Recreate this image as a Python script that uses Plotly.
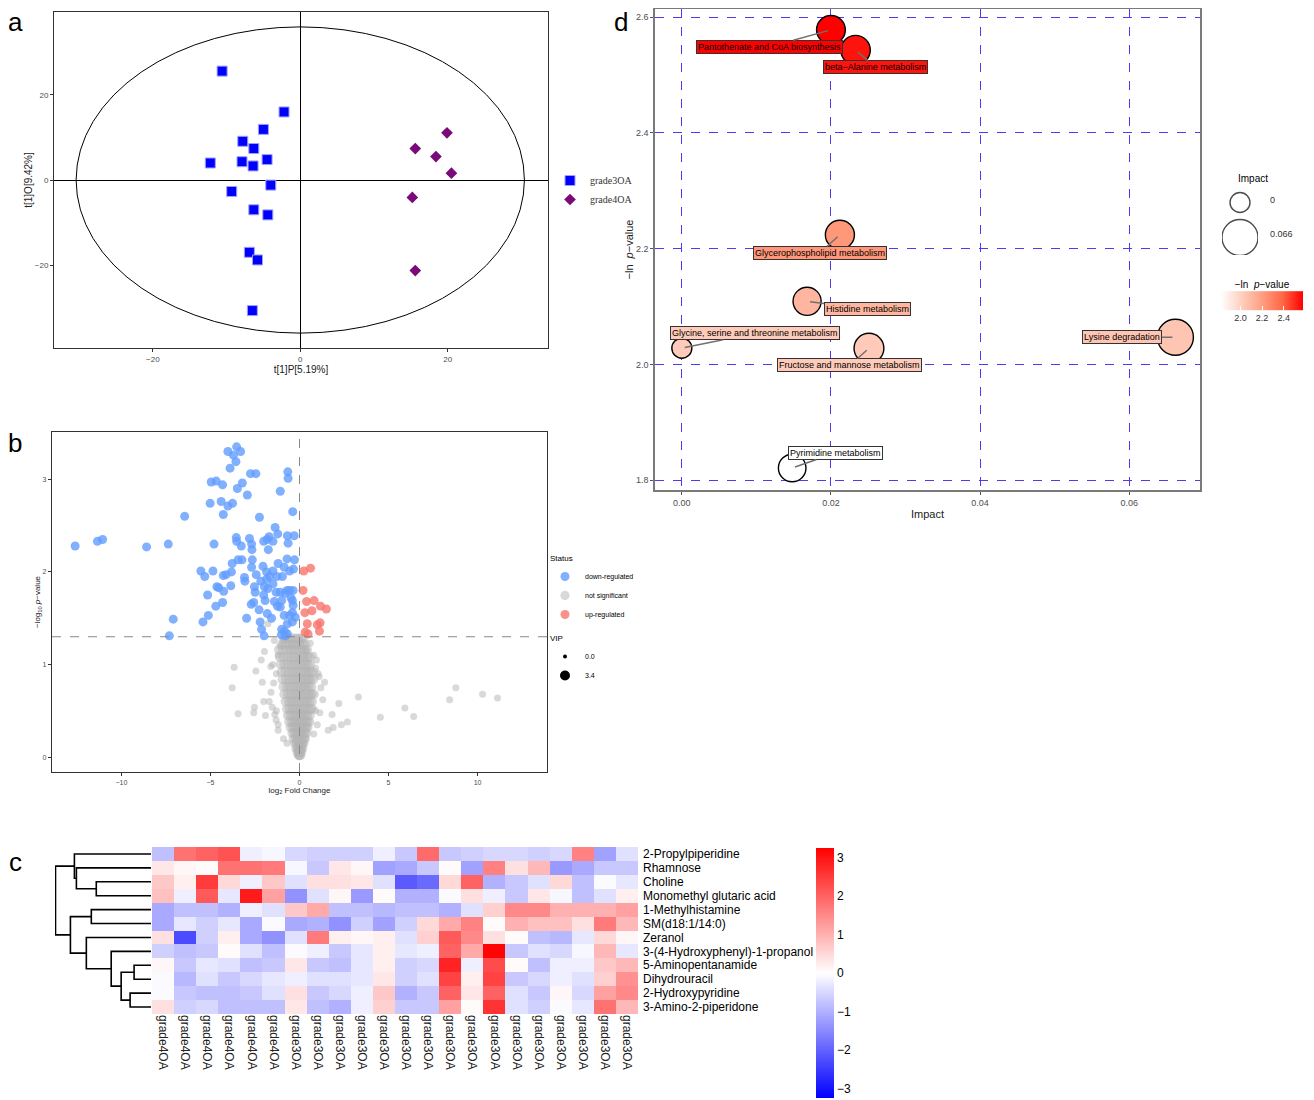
import plotly.graph_objects as go

OFF = 8                      # default page body margin of the written html
W, H = 1314 - OFF, 1100 - OFF
def px_x(p): return (p - OFF) / W
def px_y(p): return 1 - (p - OFF) / H

FONT = "Liberation Sans"

# ---------------- Panel a : OPLS-DA scores ----------------
g3_x = [-10.6, -2.2, -5.0, -7.8, -6.3, -12.2, -7.9, -6.4, -4.5, -4.0, -9.3, -6.3, -4.4, -6.9, -5.8, -6.5]
g3_y = [25.6, 16.0, 11.9, 9.1, 7.4, 4.0, 4.3, 3.3, 4.8, -1.2, -2.7, -7.0, -8.2, -17.0, -18.8, -30.7]
g4_x = [19.9, 15.6, 18.4, 20.5, 15.2, 15.6]
g4_y = [11.1, 7.4, 5.5, 1.6, -4.1, -21.3]
ellipse_rx, ellipse_ry = 30.4, 36.0

# ---------------- Panel b : volcano ----------------
down_pts = [(-12.6, 2.28), (-11.35, 2.33), (-11.06, 2.35), (-8.59, 2.27), (-7.37, 2.30), (-7.09, 1.49),
            (-7.31, 1.31), (-6.45, 2.60), (-5.42, 1.46), (-5.12, 1.53), (-5.16, 1.75), (-5.54, 2.01),
            (-5.32, 1.95), (-4.86, 2.01), (-4.80, 2.30), (-5.02, 2.74), (-4.96, 2.97), (-4.68, 2.98),
            (-4.32, 2.94), (-4.40, 2.76), (-4.02, 2.71), (-3.76, 2.74), (-4.28, 2.62), (-4.70, 1.63),
            (-4.64, 1.84), (-4.54, 1.83), (-4.26, 1.79), (-4.32, 1.67), (-4.28, 1.96), (-4.12, 1.97),
            (-3.82, 2.00), (-3.86, 1.85), (-3.78, 2.09), (-3.55, 2.37), (-3.53, 2.33), (-3.45, 2.13),
            (-3.27, 2.28), (-3.23, 2.13), (-3.09, 1.94), (-3.07, 1.90), (-2.97, 1.50), (-4.02, 3.30),
            (-3.71, 3.26), (-3.53, 3.35), (-3.31, 3.30), (-3.57, 3.19), (-3.90, 3.12), (-3.49, 2.90),
            (-3.21, 2.96), (-2.93, 2.83), (-2.75, 3.06), (-2.45, 3.06), (-2.25, 2.59), (-2.81, 2.36),
            (-2.69, 2.30), (-2.67, 2.24), (-2.65, 2.13), (-2.69, 2.05), (-2.43, 1.97), (-2.53, 1.84),
            (-2.49, 1.78), (-2.57, 1.67), (-2.71, 1.65), (-2.27, 1.59), (-2.21, 1.46), (-2.13, 1.38),
            (-1.99, 1.31), (-2.01, 2.33), (-1.81, 2.35), (-1.71, 2.38), (-1.75, 2.24), (-2.05, 2.06),
            (-1.85, 2.00), (-2.17, 1.90), (-1.85, 1.92), (-1.67, 1.95), (-1.97, 1.84), (-1.77, 1.82),
            (-2.01, 1.75), (-1.93, 1.69), (-1.81, 1.55), (-1.57, 1.50), (-1.49, 2.33), (-1.37, 2.48),
            (-1.22, 2.41), (-1.49, 2.01), (-1.20, 2.09), (-1.27, 1.95), (-1.49, 1.87), (-1.31, 1.78),
            (-1.41, 1.68), (-1.24, 1.63), (-1.08, 2.87), (-0.86, 2.05), (-0.96, 1.95), (-1.08, 1.78),
            (-1.00, 1.69), (-0.80, 1.77), (-0.70, 1.80), (-0.56, 1.80), (-0.36, 1.80), (-1.08, 1.62),
            (-0.86, 1.53), (-0.56, 1.53), (-0.40, 1.56), (-0.24, 1.51), (-0.68, 1.44), (-0.40, 1.46),
            (-1.00, 1.38), (-0.84, 1.36), (-0.68, 1.33), (-0.80, 1.31), (-1.02, 1.32), (-0.66, 3.08),
            (-0.64, 3.01), (-0.38, 2.65), (-0.68, 2.39), (-0.30, 2.39), (-0.64, 2.31), (-0.70, 2.14),
            (-0.28, 2.13), (-0.34, 2.03), (-0.56, 2.01), (-0.40, 1.69), (-0.36, 1.64), (-0.48, 1.72)]
up_pts = [(0.24, 2.01), (0.62, 2.04), (0.20, 1.80), (0.40, 1.68), (0.82, 1.69), (1.18, 1.63), (1.51, 1.60),
          (0.30, 1.56), (0.70, 1.58), (0.44, 1.44), (1.00, 1.43), (1.16, 1.45), (1.12, 1.36), (0.32, 1.35),
          (0.48, 1.33)]
ns_outliers = [(8.78, 0.75), (10.28, 0.68), (11.12, 0.64), (8.43, 0.62), (5.92, 0.53), (6.41, 0.44),
               (4.54, 0.43), (3.31, 0.65), (2.69, 0.38), (2.35, 0.35), (2.21, 0.58), (1.83, 0.46),
               (1.89, 0.32), (1.41, 0.81), (-3.67, 0.97), (-3.78, 0.75), (-3.45, 0.47), (-2.53, 0.54),
               (-1.97, 1.14), (-2.15, 1.05), (-2.45, 0.93), (-2.09, 0.81), (-2.01, 0.60), (-1.77, 1.44),
               (-1.53, 0.54), (-1.39, 0.46), (-1.91, 0.45), (-2.57, 0.48), (-1.61, 0.98), (-1.20, 1.10),
               (-1.41, 1.26), (0.80, 1.10), (0.90, 0.96), (1.10, 0.87), (1.31, 0.62), (1.14, 0.48),
               (0.60, 1.23), (0.40, 1.15), (1.61, 0.29), (-1.31, 0.40), (-1.20, 0.29), (-1.30, 0.90),
               (-1.45, 0.80), (-1.60, 0.70), (-1.50, 1.00), (-1.70, 0.60), (-1.30, 0.50), (-1.20, 0.35),
               (0.90, 0.50), (1.00, 0.35), (0.80, 0.25), (1.20, 0.75), (1.05, 0.90), (-0.90, 0.20),
               (-0.70, 0.15), (-1.10, 1.20), (-0.95, 1.25), (0.95, 1.05)]
ns_core_rows = [
    (0.02, [-0.05, 0.0, 0.05]),
    (0.06, [-0.12, -0.04, 0.04, 0.1]),
    (0.10, [-0.18, -0.08, 0.0, 0.08, 0.16]),
    (0.15, [-0.25, -0.13, -0.03, 0.07, 0.15, 0.22]),
    (0.20, [-0.33, -0.2, -0.08, 0.03, 0.14, 0.25, 0.3]),
    (0.26, [-0.4, -0.28, -0.15, -0.04, 0.08, 0.19, 0.3, 0.38]),
    (0.32, [-0.5, -0.35, -0.22, -0.1, 0.02, 0.14, 0.26, 0.36, 0.45]),
    (0.38, [-0.58, -0.42, -0.28, -0.15, -0.03, 0.1, 0.22, 0.33, 0.45, 0.55]),
    (0.45, [-0.65, -0.5, -0.35, -0.2, -0.07, 0.06, 0.2, 0.32, 0.44, 0.58]),
    (0.52, [-0.7, -0.55, -0.4, -0.25, -0.1, 0.04, 0.17, 0.3, 0.45, 0.6, 0.7]),
    (0.60, [-0.78, -0.6, -0.45, -0.3, -0.15, 0.0, 0.14, 0.28, 0.42, 0.56, 0.7]),
    (0.68, [-0.85, -0.65, -0.48, -0.32, -0.17, -0.03, 0.11, 0.26, 0.4, 0.55, 0.68, 0.8]),
    (0.76, [-0.9, -0.7, -0.52, -0.36, -0.2, -0.05, 0.1, 0.24, 0.38, 0.52, 0.66]),
    (0.84, [-0.95, -0.75, -0.56, -0.4, -0.24, -0.08, 0.07, 0.22, 0.36, 0.5, 0.63, 0.78]),
    (0.92, [-1.0, -0.8, -0.6, -0.43, -0.27, -0.1, 0.05, 0.2, 0.35, 0.5, 0.62, 0.75]),
    (1.00, [-1.05, -0.85, -0.64, -0.46, -0.3, -0.13, 0.03, 0.18, 0.33, 0.47, 0.6]),
    (1.08, [-1.1, -0.88, -0.68, -0.5, -0.32, -0.15, 0.02, 0.17, 0.31, 0.45, 0.58]),
    (1.16, [-1.15, -0.92, -0.7, -0.52, -0.35, -0.18, 0.0, 0.15, 0.3, 0.42]),
    (1.22, [-0.95, -0.72, -0.55, -0.37, -0.2, -0.02, 0.14, 0.28]),
    (1.28, [-0.85, -0.65, -0.45, -0.28, -0.1, 0.06, 0.2]),
]
p_threshold = 1.3

# ---------------- Panel c : heatmap ----------------
row_labels = ["2-Propylpiperidine", "Rhamnose", "Choline", "Monomethyl glutaric acid", "1-Methylhistamine",
              "SM(d18:1/14:0)", "Zeranol", "3-(4-Hydroxyphenyl)-1-propanol", "5-Aminopentanamide",
              "Dihydrouracil", "2-Hydroxypyridine", "3-Amino-2-piperidone"]
col_labels = ["grade4OA"] * 6 + ["grade3OA"] * 16
heat_values = [
    [-0.8, 1.8, 2.0, 2.2, -0.2, -0.1, -0.5, -0.6, -0.6, -0.6, -0.2, -0.7, 1.9, -0.7, -0.6, -0.5, -0.5, -0.6, -0.5, 1.6, -1.2, -0.4],
    [0.3, 0.1, 0.05, 1.8, 1.8, 1.7, -0.1, -0.7, 0.3, 0.1, -1.2, -1.1, -0.7, 0.05, -1.2, 1.6, 0.4, 0.9, -1.3, -1.1, -0.7, -0.7],
    [0.7, 0.2, 2.5, 0.5, -0.2, 0.7, -0.4, 0.4, 0.4, 0.3, -0.4, -2.1, -1.9, 0.5, 2.0, -1.0, -0.7, -0.4, 0.5, -0.8, -0.05, -0.3],
    [0.8, -0.2, 2.1, -0.3, 2.9, 1.2, -1.4, -0.4, 0.1, -1.3, 0.05, -1.0, -1.0, -0.05, 0.4, -0.2, -0.7, 0.3, -0.1, -0.8, -0.4, 0.2],
    [-1.1, -0.8, -0.8, -1.0, -0.2, -0.4, 0.7, 1.1, -0.8, -0.8, -0.9, -0.8, -0.8, -1.0, -0.4, 0.6, 1.5, 1.5, 1.0, 1.0, 1.0, 1.2],
    [-1.1, -0.3, -0.6, -0.3, -1.1, -0.05, -1.1, -1.0, -1.4, -0.6, -1.2, -0.6, 0.5, 1.1, 1.6, 0.05, 1.0, 0.8, 0.8, 0.4, 1.7, 0.9],
    [0.4, -2.3, -0.6, 0.2, -1.1, -1.4, -0.4, 1.7, 0.2, 0.1, 0.2, -0.4, 0.6, 2.1, 1.5, 0.4, 0.05, -0.8, -0.9, -0.3, 0.5, 0.1],
    [-0.6, -0.8, -0.7, 0.05, -0.4, -0.8, -0.05, -0.2, -0.7, -0.3, 0.2, -0.3, -0.2, 2.0, 1.1, 3.2, -0.7, -0.4, -0.5, -0.1, 0.9, -0.3],
    [0.1, -0.7, -0.3, -0.4, -0.8, -0.7, 0.3, -0.7, -0.8, -0.3, 0.2, -0.6, -0.5, 2.8, -0.2, 2.3, 0.05, -0.8, -0.2, -0.2, 0.7, 0.9],
    [-0.05, -0.9, -0.4, -0.7, -0.5, -0.3, -0.2, -0.4, -0.4, -0.3, 0.3, -0.6, -0.4, 2.4, 0.2, 2.4, -0.7, -0.5, -0.2, -0.4, 0.6, 1.4],
    [-0.05, -0.7, -0.8, -0.8, -0.7, -0.4, 0.4, -0.7, -0.5, -0.2, 0.7, -1.0, -0.7, 2.0, 0.3, 2.0, -0.4, -0.7, 0.1, -0.5, 1.2, 1.5],
    [0.4, -0.6, -0.5, -0.8, -0.8, -0.8, 0.3, -0.8, -1.0, -0.2, 0.6, -0.7, -0.7, 1.2, 0.05, 2.6, -0.4, -0.6, -0.05, -0.3, 1.8, 0.9],
]
# row dendrogram merges: (left node, right node, height); leaves 0..11, new nodes from 12
row_merges = [(2, 3, 55), (1, 12, 75), (0, 13, 77), (4, 5, 60), (8, 9, 17), (10, 11, 21),
              (16, 17, 30), (7, 18, 40), (6, 19, 65), (15, 20, 81), (14, 21, 96)]

# ---------------- Panel d : pathway bubbles ----------------
pathways = ["Pantothenate and CoA biosynthesis", "beta\u2212Alanine metabolism", "Glycerophospholipid metabolism",
            "Histidine metabolism", "Glycine, serine and threonine metabolism", "Fructose and mannose metabolism",
            "Lysine degradation", "Pyrimidine metabolism"]
impact = [0.0200, 0.0233, 0.0212, 0.0168, 0.0, 0.0251, 0.0662, 0.0148]
neg_ln_p = [2.578, 2.543, 2.224, 2.109, 2.028, 2.028, 2.047, 1.821]
label_dx = [-61, 20, -20, 60, 73, -19, -53, 43]
label_dy = [17, 17, 18, 8, -15, 17, 0, -15]
impact_legend_vals = [0, 0.066]

# ---------------- helpers ----------------
red_scale = [[0, "#FFFFFF"], [0.25, "#FFCFBF"], [0.5, "#FF9E81"], [0.75, "#FF6746"], [1, "#FF0000"]]
cmin_d, cmax_d = 1.821, 2.578

def hex2rgb(h):
    return tuple(int(h[i:i + 2], 16) for i in (1, 3, 5))

def scale_color(v):
    t = (v - cmin_d) / (cmax_d - cmin_d)
    t = max(0.0, min(1.0, t))
    for (a, ca), (b, cb) in zip(red_scale[:-1], red_scale[1:]):
        if a <= t <= b:
            f = (t - a) / (b - a)
            r1, g1, b1 = hex2rgb(ca)
            r2, g2, b2 = hex2rgb(cb)
            return "rgb(%d,%d,%d)" % (r1 + (r2 - r1) * f, g1 + (g2 - g1) * f, b1 + (b2 - b1) * f)
    return red_scale[-1][1]

imp_max = 0.066
def bubble_size(v):
    return 20 + 16 * (max(v, 0) / imp_max) ** 0.5

fig = go.Figure()

# ---- a ----
fig.add_trace(go.Scatter(x=g3_x, y=g3_y, mode="markers", name="grade3OA", xaxis="x", yaxis="y",
                         marker=dict(symbol="square", size=10, color="#0000FF", line=dict(color="#A0A0FF", width=1)),
                         legend="legend"))
fig.add_trace(go.Scatter(x=g4_x, y=g4_y, mode="markers", name="grade4OA", xaxis="x", yaxis="y",
                         marker=dict(symbol="diamond", size=9, color="#7A0A7A", line=dict(width=0)),
                         legend="legend"))

# ---- b ----
out_x = [p[0] for p in ns_outliers]
out_y = [p[1] for p in ns_outliers]
core_x, core_y = [], []
for yv, xs in ns_core_rows:
    for xv in xs:
        core_x.append(xv)
        core_y.append(yv)
fig.add_trace(go.Scatter(x=out_x + core_x, y=out_y + core_y, mode="markers", name="not significant",
                         xaxis="x2", yaxis="y2",
                         marker=dict(size=[7] * len(out_x) + [10] * len(core_x), color="#B3B3B3", opacity=0.5,
                                     line=dict(width=0)),
                         legend="legend2", legendgroup="status", legendrank=2))
fig.add_trace(go.Scatter(x=[p[0] for p in down_pts], y=[p[1] for p in down_pts], mode="markers",
                         name="down-regulated", xaxis="x2", yaxis="y2",
                         marker=dict(size=9, color="#619CFF", opacity=0.8, line=dict(width=0)),
                         legend="legend2", legendgroup="status", legendrank=1,
                         legendgrouptitle=dict(text="Status", font=dict(size=8, color="black"))))
fig.add_trace(go.Scatter(x=[p[0] for p in up_pts], y=[p[1] for p in up_pts], mode="markers",
                         name="up-regulated", xaxis="x2", yaxis="y2",
                         marker=dict(size=9, color="#F8766D", opacity=0.8, line=dict(width=0)),
                         legend="legend2", legendgroup="status", legendrank=3))
fig.add_trace(go.Scatter(x=[None], y=[None], mode="markers", name="0.0", xaxis="x2", yaxis="y2",
                         marker=dict(size=4, color="black"), legend="legend2", legendgroup="vip", legendrank=4,
                         legendgrouptitle=dict(text="VIP", font=dict(size=8, color="black"))))
fig.add_trace(go.Scatter(x=[None], y=[None], mode="markers", name="3.4", xaxis="x2", yaxis="y2",
                         marker=dict(size=10, color="black"), legend="legend2", legendgroup="vip", legendrank=5))

# ---- c ----
fig.add_trace(go.Heatmap(z=heat_values, x=list(range(len(col_labels))), y=list(range(len(row_labels))),
                         xaxis="x3", yaxis="y3", zmin=-3.25, zmax=3.25,
                         colorscale=[[0, "#0000FF"], [0.5, "#FFFFFF"], [1, "#FF0000"]],
                         colorbar=dict(x=px_x(816), xanchor="left", y=px_y(1098), yanchor="bottom",
                                       len=250, lenmode="pixels", thickness=18, thicknessmode="pixels",
                                       xpad=0, ypad=0, outlinewidth=0, ticks="",
                                       tickvals=[-3, -2, -1, 0, 1, 2, 3],
                                       tickfont=dict(size=12, color="black", family=FONT)),
                         hoverinfo="skip"))
# dendrogram built from merge table
node_y = {i: float(i) for i in range(len(row_labels))}
node_h = {i: 0.0 for i in range(len(row_labels))}
dx, dy = [], []
nid = len(row_labels)
for l, r, h in row_merges:
    dx += [node_h[l], h, h, node_h[r], None]
    dy += [node_y[l], node_y[l], node_y[r], node_y[r], None]
    node_y[nid] = (node_y[l] + node_y[r]) / 2
    node_h[nid] = h
    nid += 1
fig.add_trace(go.Scatter(x=dx, y=dy, mode="lines", xaxis="x4", yaxis="y4", showlegend=False,
                         line=dict(color="black", width=1.6), hoverinfo="skip"))

# ---- d ----
fig.add_trace(go.Scatter(x=impact, y=neg_ln_p, mode="markers", xaxis="x5", yaxis="y5", showlegend=False,
                         marker=dict(size=[bubble_size(v) for v in impact], color=neg_ln_p, colorscale=red_scale,
                                     cmin=cmin_d, cmax=cmax_d, opacity=1,
                                     line=dict(color="black", width=1.4), showscale=True,
                                     colorbar=dict(orientation="h", x=px_x(1262), xanchor="center",
                                                   y=px_y(328), yanchor="bottom", len=82, lenmode="pixels",
                                                   thickness=19, thicknessmode="pixels", xpad=0, ypad=0,
                                                   outlinewidth=0, ticks="inside", tickcolor="white", ticklen=4,
                                                   tickvals=[2.0, 2.2, 2.4], tickformat=".1f",
                                                   tickfont=dict(size=9, color="#333", family=FONT),
                                                   title=dict(text="\u2212ln  <i>p</i>\u2212value", side="top",
                                                              font=dict(size=10, color="black", family=FONT)))),
                         hoverinfo="skip"))
# impact size legend
fig.add_trace(go.Scatter(x=[0, 0], y=[1, 0], mode="markers", xaxis="x6", yaxis="y6", showlegend=False,
                         marker=dict(size=[bubble_size(v) for v in impact_legend_vals], color="white",
                                     line=dict(color="black", width=1.4)), hoverinfo="skip"))

annotations = []
for name, xi, yi, ddx, ddy, v in zip(pathways, impact, neg_ln_p, label_dx, label_dy, neg_ln_p):
    annotations.append(dict(x=xi, y=yi, xref="x5", yref="y5", text=name, showarrow=True, ax=ddx, ay=ddy,
                            axref="pixel", ayref="pixel", arrowhead=0, arrowwidth=1.5, arrowcolor="#707070",
                            standoff=3, bgcolor=scale_color(v), bordercolor="#333333", borderwidth=1,
                            borderpad=1, font=dict(size=9, color="black", family=FONT)))
for letter, lx, ly in [("a", 15, 22), ("b", 15, 443), ("c", 15, 862), ("d", 621, 22)]:
    annotations.append(dict(x=px_x(lx), y=px_y(ly), xref="paper", yref="paper", text=letter, showarrow=False,
                            xanchor="center", yanchor="middle", font=dict(size=26, color="black", family=FONT)))
annotations.append(dict(x=px_x(1253), y=px_y(178), xref="paper", yref="paper", text="Impact", showarrow=False,
                        xanchor="center", yanchor="middle", font=dict(size=10, color="black", family=FONT)))
for txt, ty in [(str(impact_legend_vals[0]), 200), (str(impact_legend_vals[1]), 234)]:
    annotations.append(dict(x=px_x(1268), y=px_y(ty), xref="paper", yref="paper", text=txt, showarrow=False,
                            xanchor="left", yanchor="middle", font=dict(size=9, color="#333", family=FONT)))

shapes = [
    dict(type="circle", xref="x", yref="y", x0=-ellipse_rx, x1=ellipse_rx, y0=-ellipse_ry, y1=ellipse_ry,
         line=dict(color="black", width=1)),
    dict(type="line", xref="x2", yref="y2 domain", x0=0, x1=0, y0=0, y1=1,
         line=dict(color="#888888", width=1, dash="dash")),
    dict(type="line", xref="x2 domain", yref="y2", x0=0, x1=1, y0=p_threshold, y1=p_threshold,
         line=dict(color="#888888", width=1, dash="dash")),
]

tick_small = dict(size=8, color="#4D4D4D", family=FONT)
tick_b = dict(size=7, color="#4D4D4D", family=FONT)
tick_d = dict(size=9, color="#4D4D4D", family=FONT)

fig.update_layout(
    width=W, height=H, margin=dict(l=0, r=0, t=0, b=0, autoexpand=False),
    paper_bgcolor="white", plot_bgcolor="white",
    font=dict(family=FONT, color="black"),
    showlegend=True,
    legend=dict(x=px_x(550), y=px_y(166), xanchor="left", yanchor="top", bgcolor="rgba(0,0,0,0)",
                font=dict(size=10, family="Liberation Serif", color="#333"), tracegroupgap=0, itemwidth=30),
    legend2=dict(x=px_x(545), y=px_y(543), xanchor="left", yanchor="top", bgcolor="rgba(0,0,0,0)",
                 font=dict(size=7, family=FONT, color="black"), tracegroupgap=4, itemwidth=30,
                 traceorder="grouped"),
    xaxis=dict(domain=[px_x(54), px_x(548)], range=[-33.4, 33.6], anchor="y", showgrid=False,
               zeroline=True, zerolinecolor="black", zerolinewidth=1, showline=True, mirror=True,
               linecolor="#333", linewidth=1, ticks="outside", ticklen=3, tickcolor="#333",
               tickvals=[-20, 0, 20], tickfont=tick_small,
               title=dict(text="t[1]P[5.19%]", font=dict(size=10, color="#222"), standoff=2)),
    yaxis=dict(domain=[px_y(348), px_y(12)], range=[-39.5, 39.5], anchor="x", showgrid=False,
               zeroline=True, zerolinecolor="black", zerolinewidth=1, showline=True, mirror=True,
               linecolor="#333", linewidth=1, ticks="outside", ticklen=3, tickcolor="#333",
               tickvals=[-20, 0, 20], tickfont=tick_small,
               title=dict(text="t[1]O[9.42%]", font=dict(size=10, color="#222"), standoff=0)),
    xaxis2=dict(domain=[px_x(52), px_x(547)], range=[-13.9, 13.9], anchor="y2", showgrid=False,
                zeroline=False, showline=True, mirror=True, linecolor="#333", linewidth=1.2,
                ticks="outside", ticklen=3, tickcolor="#333", tickvals=[-10, -5, 0, 5, 10], tickfont=tick_b,
                title=dict(text="log<sub>2</sub> Fold Change", font=dict(size=8, color="#222"), standoff=2)),
    yaxis2=dict(domain=[px_y(772), px_y(432)], range=[-0.16, 3.51], anchor="x2", showgrid=False,
                zeroline=False, showline=True, mirror=True, linecolor="#333", linewidth=1.2,
                ticks="outside", ticklen=3, tickcolor="#333", tickvals=[0, 1, 2, 3], tickfont=tick_b,
                title=dict(text="\u2212log<sub>10</sub> <i>p</i>\u2212value", font=dict(size=8, color="#222"),
                           standoff=0)),
    xaxis3=dict(domain=[px_x(152), px_x(638)], range=[-0.5, 21.5], anchor="y3", showgrid=False,
                zeroline=False, showline=False, ticks="", tickmode="array",
                tickvals=list(range(len(col_labels))), ticktext=col_labels, tickangle=90,
                tickfont=dict(size=12, color="#222", family=FONT)),
    yaxis3=dict(domain=[px_y(1014), px_y(847)], range=[11.5, -0.5], anchor="x3", side="right",
                showgrid=False, zeroline=False, showline=False, ticks="", tickmode="array",
                tickvals=list(range(len(row_labels))), ticktext=row_labels, ticklabelstandoff=4,
                tickfont=dict(size=12, color="black", family=FONT)),
    xaxis4=dict(domain=[px_x(55), px_x(151)], range=[96.5, 0], anchor="y4", visible=False),
    yaxis4=dict(domain=[px_y(1014), px_y(847)], range=[11.5, -0.5], anchor="x4", visible=False),
    xaxis5=dict(domain=[px_x(655), px_x(1200)], range=[-0.0036, 0.0695], anchor="y5",
                showgrid=True, gridcolor="#4B3BF5", griddash="dash", gridwidth=1.3, zeroline=False,
                showline=True, mirror=True, linecolor="#7A7A7A", linewidth=1.5, ticks="outside",
                ticklen=3, tickcolor="#555", tick0=0, dtick=0.02, tickformat=".2f", tickfont=tick_d,
                title=dict(text="Impact", font=dict(size=11, color="#222"), standoff=4)),
    yaxis5=dict(domain=[px_y(490), px_y(9)], range=[1.783, 2.614], anchor="x5",
                showgrid=True, gridcolor="#4B3BF5", griddash="dash", gridwidth=1.3, zeroline=False,
                showline=True, mirror=True, linecolor="#7A7A7A", linewidth=1.5, ticks="outside",
                ticklen=3, tickcolor="#555", tick0=1.8, dtick=0.2, tickformat=".1f", tickfont=tick_d,
                title=dict(text="\u2212ln  <i>p</i>\u2212value", font=dict(size=11, color="#222"), standoff=0)),
    xaxis6=dict(domain=[px_x(1222), px_x(1258)], range=[-1, 1], anchor="y6", visible=False),
    yaxis6=dict(domain=[px_y(255), px_y(185)], range=[-0.5, 1.5], anchor="x6", visible=False),
    annotations=annotations, shapes=shapes,
)

fig.write_html("out.html")
